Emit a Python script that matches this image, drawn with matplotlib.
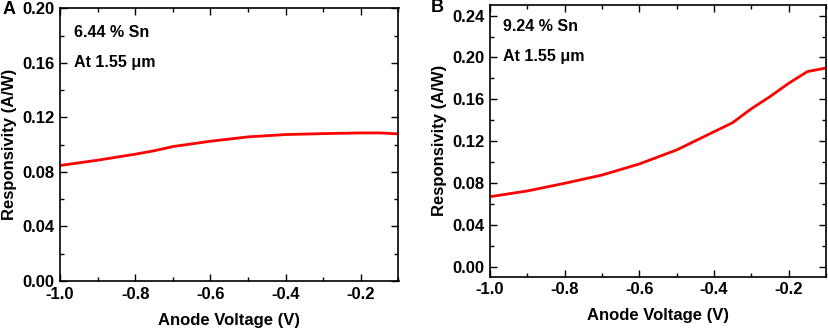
import matplotlib
matplotlib.use("Agg")
from matplotlib import pyplot as plt
from matplotlib.ticker import MultipleLocator

plt.rcParams['font.family'] = ['Liberation Sans', 'DejaVu Sans']
plt.rcParams['font.weight'] = 'bold'

# panel A: 6.44 % Sn
volt_a = [-1.0, -0.9, -0.8, -0.75, -0.7, -0.6, -0.5, -0.4, -0.3, -0.2, -0.15, -0.1]
resp_a = [0.0847, 0.0886, 0.0930, 0.0955, 0.0986, 0.1025, 0.1057, 0.1074, 0.1081, 0.1086, 0.1086, 0.1079]

# panel B: 9.24 % Sn
volt_b = [-1.0, -0.9, -0.8, -0.7, -0.6, -0.5, -0.4, -0.35, -0.3, -0.25, -0.2, -0.15, -0.1]
resp_b = [0.0669, 0.0724, 0.0797, 0.0876, 0.0982, 0.1116, 0.1290, 0.1377, 0.1510, 0.1626, 0.1753, 0.1865, 0.1900]

xticks = [-1.0, -0.8, -0.6, -0.4, -0.2]
xtick_labels = ['-1.0', '-0.8', '-0.6', '-0.4', '-0.2']

fig = plt.figure(figsize=(8.29, 3.34), dpi=100)
W, H = 829, 334


def make_axes(l, t, r, b):
    return fig.add_axes([l / W, 1 - b / H, (r - l) / W, (b - t) / H])


def style(ax, ylim, yticks):
    ax.set_xlim(-1.0, -0.1)
    ax.set_ylim(*ylim)
    ax.set_xticks(xticks)
    ax.set_xticklabels(xtick_labels)
    ax.set_yticks(yticks)
    ax.set_yticklabels(['%.2f' % v for v in yticks])
    ax.xaxis.set_minor_locator(MultipleLocator(0.1))
    ax.yaxis.set_minor_locator(MultipleLocator(0.02))
    ax.tick_params(which='both', direction='in', top=True, right=True, width=1.0)
    ax.tick_params(which='major', length=5, labelsize=12, pad=4)
    ax.tick_params(which='minor', length=3)
    for sp in ax.spines.values():
        sp.set_linewidth(1.2)
    ax.set_xlabel("Anode Voltage (V)", fontsize=12, fontweight='bold', labelpad=8)
    ax.set_ylabel("Responsivity (A/W)", fontsize=12, fontweight='bold', labelpad=4)


ax1 = make_axes(60, 8.3, 398.5, 281)
ax1.plot(volt_a, resp_a, color='#ff0000', lw=2)
style(ax1, (0, 0.20), [0.00, 0.04, 0.08, 0.12, 0.16, 0.20])
ax1.text(0.04, 0.91, "6.44 % Sn", transform=ax1.transAxes, fontsize=11.5, fontweight='bold', va='center')
ax1.text(0.04, 0.80, "At 1.55 \u03bcm", transform=ax1.transAxes, fontsize=11.5, fontweight='bold', va='center')
fig.text(3 / W, 1 - 10 / H, "A", fontsize=13, fontweight='bold', va='center')

ax2 = make_axes(490, 5, 826, 276.7)
ax2.plot(volt_b, resp_b, color='#ff0000', lw=2)
style(ax2, (-0.0096, 0.2502), [0.00, 0.04, 0.08, 0.12, 0.16, 0.20, 0.24])
ax2.text(0.04, 0.92, "9.24 % Sn", transform=ax2.transAxes, fontsize=11.5, fontweight='bold', va='center')
ax2.text(0.04, 0.81, "At 1.55 \u03bcm", transform=ax2.transAxes, fontsize=11.5, fontweight='bold', va='center')
fig.text(431 / W, 1 - 8 / H, "B", fontsize=13, fontweight='bold', va='center')

fig.savefig("out.png", dpi=100)
